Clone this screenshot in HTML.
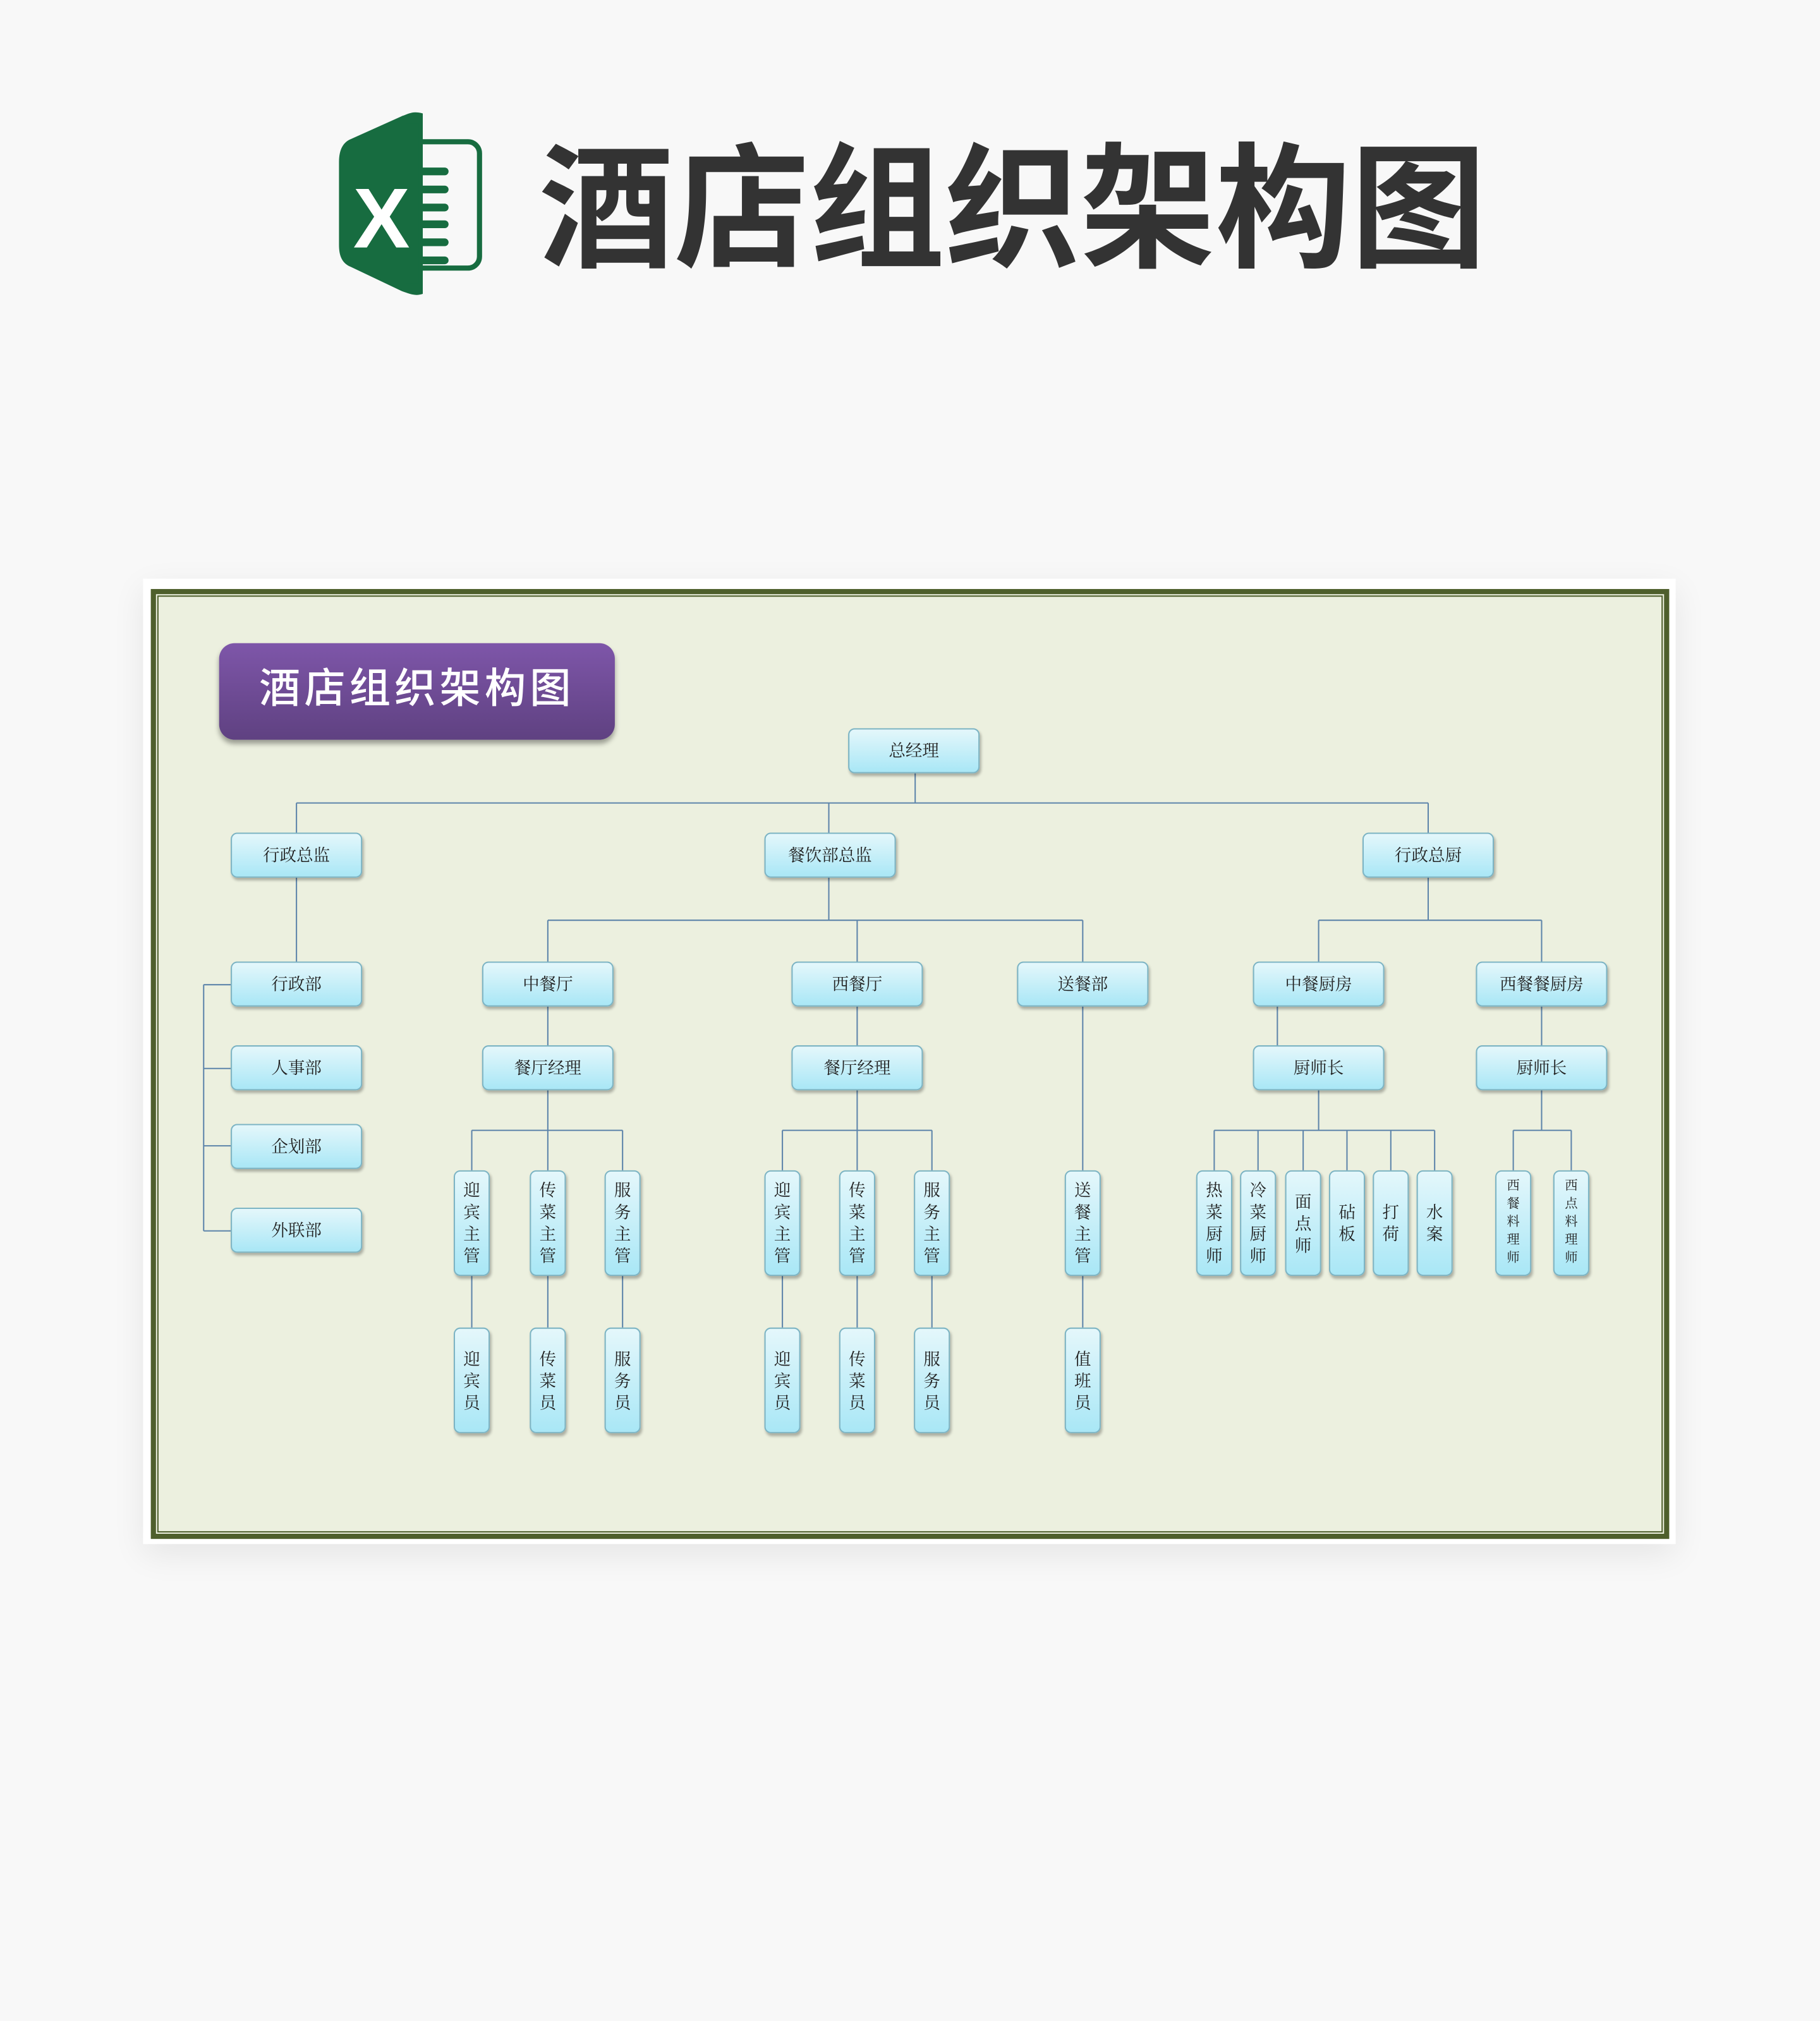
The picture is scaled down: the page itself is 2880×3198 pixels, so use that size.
<!DOCTYPE html>
<html><head><meta charset="utf-8">
<style>
html,body{margin:0;padding:0;background:#f8f8f8;}
body{width:2880px;height:3198px;overflow:hidden;position:relative;}
#s{position:absolute;left:0;top:0;width:1412px;height:1568px;transform:scale(2.0397,2.0395);transform-origin:0 0;}
.ab{position:absolute;}
.b{position:absolute;box-sizing:border-box;border:1px solid #7cb4c4;border-radius:5px;
background:linear-gradient(#e4f7fb,#a9e7f6);box-shadow:1px 2px 2px rgba(0,0,0,.28);
font-family:"Liberation Serif","Noto Serif CJK SC",serif;font-size:13px;color:#222;
display:flex;align-items:center;justify-content:center;text-align:center;}
.h{width:102px;height:35px;padding-bottom:2px;}
.v{width:28px;height:82px;line-height:17px;}
.v.sm{font-size:10px;line-height:14px;}
</style></head><body><div id="s">
<svg class="ab" style="left:262px;top:86px" width="114" height="144" viewBox="0 0 114 144">
<rect x="50" y="24" width="60" height="98" rx="9" fill="none" stroke="#176c40" stroke-width="4"/>
<g stroke="#176c40" stroke-width="6" stroke-linecap="round">
<line x1="55" y1="47" x2="83" y2="47"/><line x1="55" y1="61" x2="83" y2="61"/><line x1="55" y1="75" x2="83" y2="75"/>
<line x1="55" y1="88" x2="83" y2="88"/><line x1="55" y1="102" x2="83" y2="102"/><line x1="55" y1="116" x2="83" y2="116"/></g>
<path d="M66 2 C58 0 56 2 50 4 L10 22 C3 25 1 32 1 40 L1 104 C1 112 3 118 10 121 L50 140 C56 142 60 144 66 142 Z" fill="#176c40"/>
<path d="M58 10 L58 134" stroke="#176c40" stroke-width="10"/>
<text x="34" y="106" font-family="Liberation Sans,sans-serif" font-weight="bold" font-size="66" fill="#fff" text-anchor="middle">X</text>
</svg>
<div class="ab" style="left:418px;top:99px;font-family:'Liberation Sans','Noto Sans CJK SC',sans-serif;font-weight:bold;font-size:105px;color:#333;letter-spacing:0px;line-height:130px;white-space:nowrap">酒店组织架构图</div>
<div class="ab" style="left:111px;top:449px;width:1189px;height:749px;background:#fff;box-shadow:0 8px 24px rgba(0,0,0,.08)"></div>
<div class="ab" style="left:117px;top:457px;width:1178px;height:737px;box-sizing:border-box;border:4px solid #4e5f2c;background:#ecf0df"></div>
<div class="ab" style="left:122px;top:462px;width:1168px;height:727px;box-sizing:border-box;border:1.5px solid #4e5f2c"></div>
<div class="ab" style="left:170px;top:499px;width:307px;height:75px;border-radius:12px;background:linear-gradient(#7e56a9,#5f4181);box-shadow:0 3px 4px rgba(0,0,0,.35);color:#fff;font-family:'Liberation Sans','Noto Sans CJK SC',sans-serif;font-weight:500;font-size:32px;display:flex;align-items:center;justify-content:center;letter-spacing:3px;padding-bottom:10px;box-sizing:border-box">酒店组织架构图</div>
<svg class="ab" style="left:0;top:0" width="1412" height="1568" fill="none" stroke="#5d84aa" stroke-width="1">
<path d="M710 600V623M230 623H1108M230 623V646M643 623V646M1108 623V646"/>
<path d="M230 681V746M158 764V955M158 764H179M158 829H179M158 889H179M158 955H179"/>
<path d="M643 681V714M425 714H840M425 714V746M665 714V746M840 714V746"/>
<path d="M425 781V811M425 846V908M366 877H483M366 877V908M483 877V908"/>
<path d="M665 781V811M665 846V908M607 877H723M607 877V908M723 877V908"/>
<path d="M840 781V908"/>
<path d="M366 990V1030M425 990V1030M483 990V1030M607 990V1030M665 990V1030M723 990V1030M840 990V1030"/>
<path d="M1108 681V714M1023 714H1196M1023 714V746M1196 714V746"/>
<path d="M991 781V811M1023 846V877M942 877H1113M942 877V908M976 877V908M1011 877V908M1045 877V908M1079 877V908M1113 877V908"/>
<path d="M1196 781V811M1196 846V877M1174 877H1219M1174 877V908M1219 877V908"/>
</svg>
<div class="b h" style="left:658px;top:565px">总经理</div>
<div class="b h" style="left:179px;top:646px">行政总监</div>
<div class="b h" style="left:593px;top:646px">餐饮部总监</div>
<div class="b h" style="left:1057px;top:646px">行政总厨</div>
<div class="b h" style="left:179px;top:746px">行政部</div>
<div class="b h" style="left:179px;top:811px">人事部</div>
<div class="b h" style="left:179px;top:872px">企划部</div>
<div class="b h" style="left:179px;top:937px">外联部</div>
<div class="b h" style="left:374px;top:746px">中餐厅</div>
<div class="b h" style="left:614px;top:746px">西餐厅</div>
<div class="b h" style="left:789px;top:746px">送餐部</div>
<div class="b h" style="left:972px;top:746px">中餐厨房</div>
<div class="b h" style="left:1145px;top:746px">西餐餐厨房</div>
<div class="b h" style="left:374px;top:811px">餐厅经理</div>
<div class="b h" style="left:614px;top:811px">餐厅经理</div>
<div class="b h" style="left:972px;top:811px">厨师长</div>
<div class="b h" style="left:1145px;top:811px">厨师长</div>
<div class="b v" style="left:352px;top:908px">迎<br>宾<br>主<br>管</div>
<div class="b v" style="left:411px;top:908px">传<br>菜<br>主<br>管</div>
<div class="b v" style="left:469px;top:908px">服<br>务<br>主<br>管</div>
<div class="b v" style="left:593px;top:908px">迎<br>宾<br>主<br>管</div>
<div class="b v" style="left:651px;top:908px">传<br>菜<br>主<br>管</div>
<div class="b v" style="left:709px;top:908px">服<br>务<br>主<br>管</div>
<div class="b v" style="left:826px;top:908px">送<br>餐<br>主<br>管</div>
<div class="b v" style="left:928px;top:908px">热<br>菜<br>厨<br>师</div>
<div class="b v" style="left:962px;top:908px">冷<br>菜<br>厨<br>师</div>
<div class="b v" style="left:997px;top:908px">面<br>点<br>师</div>
<div class="b v" style="left:1031px;top:908px">砧<br>板</div>
<div class="b v" style="left:1065px;top:908px">打<br>荷</div>
<div class="b v" style="left:1099px;top:908px">水<br>案</div>
<div class="b v sm" style="left:1160px;top:908px">西<br>餐<br>料<br>理<br>师</div>
<div class="b v sm" style="left:1205px;top:908px">西<br>点<br>料<br>理<br>师</div>
<div class="b v" style="left:352px;top:1030px">迎<br>宾<br>员</div>
<div class="b v" style="left:411px;top:1030px">传<br>菜<br>员</div>
<div class="b v" style="left:469px;top:1030px">服<br>务<br>员</div>
<div class="b v" style="left:593px;top:1030px">迎<br>宾<br>员</div>
<div class="b v" style="left:651px;top:1030px">传<br>菜<br>员</div>
<div class="b v" style="left:709px;top:1030px">服<br>务<br>员</div>
<div class="b v" style="left:826px;top:1030px">值<br>班<br>员</div>
</div></body></html>
